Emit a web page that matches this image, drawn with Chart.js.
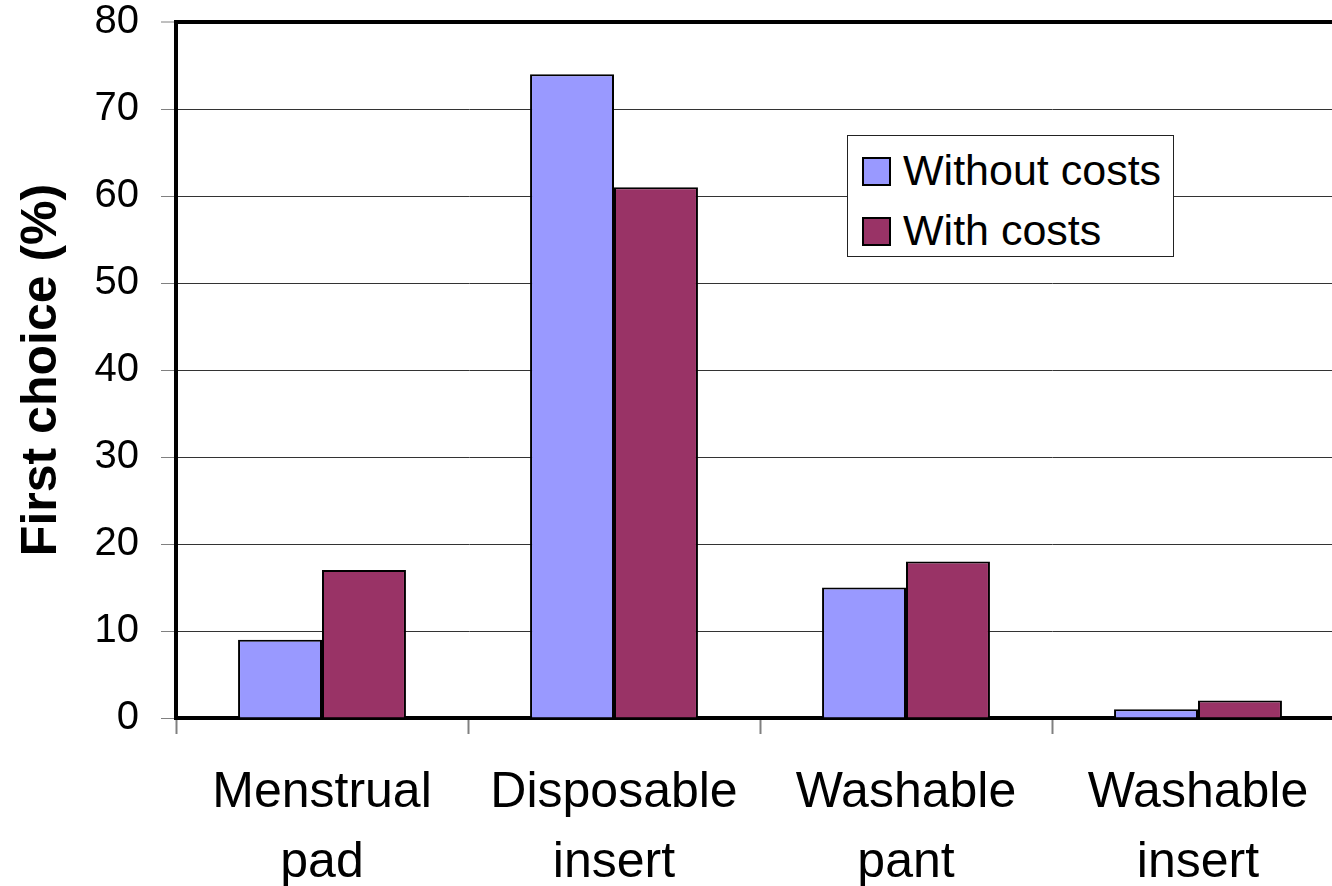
<!DOCTYPE html>
<html>
<head>
<meta charset="utf-8">
<script src="https://cdn.jsdelivr.net/npm/chart.js@4.4.1/dist/chart.umd.min.js"></script>
<style>
    html, body { margin: 0; padding: 0; background: #fff; overflow: hidden; }
    #wrap { position: relative; width: 1348px; height: 886px; }
    #legend {
        position: absolute; left: 847px; top: 135px; width: 325px; height: 120px;
        border: 1px solid #222; background: #fff;
        font-family: "Liberation Sans", Arial, sans-serif; font-size: 43px; color: #000;
    }
    #legend .item { position: absolute; left: 14px; height: 48px; line-height: 48px; }
    #legend .box { display: inline-block; width: 25px; height: 25px; border: 2px solid #000; vertical-align: -1px; margin-right: 12px; }
</style>
</head>
<body>
<div id="wrap">
    <canvas id="chart" width="1348" height="886"></canvas>
    <div id="legend"></div>
</div>
<script>
// Chart data
const categories = [['Menstrual', 'pad'], ['Disposable', 'insert'], ['Washable', 'pant'], ['Washable', 'insert']];
const withoutCosts = [9, 74, 15, 1];
const withCosts = [17, 61, 18, 2];
const seriesNames = ['Without costs', 'With costs'];
const seriesColors = ['#9999FF', '#993366'];
const yMin = 0;
const yMax = 80;
const yStep = 10;

const font = '"Liberation Sans", Arial, sans-serif';

const ctx = document.getElementById('chart').getContext('2d');

const chart = new Chart(ctx, {
    type: 'bar',
    data: {
        labels: categories,
        datasets: [withoutCosts, withCosts].map((values, i) => ({
            label: seriesNames[i],
            data: values,
            backgroundColor: seriesColors[i],
            borderColor: '#000',
            borderWidth: 2,
            categoryPercentage: 0.575,
            barPercentage: 1
        }))
    },
    options: {
        responsive: false,
        animation: false,
        layout: { padding: { top: 22, right: 4, left: 0, bottom: 0 } },
        plugins: {
            legend: { display: false },
            tooltip: { enabled: false }
        },
        scales: {
            x: {
                grid: {
                    offset: true,
                    drawOnChartArea: false,
                    drawTicks: true,
                    tickLength: 16,
                    tickColor: '#808080',
                    tickWidth: 2
                },
                border: { display: true, color: '#000', width: 4 },
                ticks: {
                    color: '#000',
                    padding: 24,
                    maxRotation: 0,
                    autoSkip: false,
                    font: { family: font, size: 50, lineHeight: 1.4 }
                },
                afterFit: scale => {
                    scale.height = 168;
                    scale.paddingLeft = 0;
                    scale.paddingRight = 0;
                }
            },
            y: {
                min: yMin,
                max: yMax,
                grid: {
                    color: ctx => ctx.tick && ctx.tick.value === yMax ? '#000' : '#333',
                    lineWidth: ctx => ctx.tick && ctx.tick.value === yMax ? 4 : 1,
                    tickLength: 15,
                    tickColor: '#808080',
                    tickWidth: 1
                },
                border: { display: true, color: '#000', width: 4 },
                ticks: {
                    stepSize: yStep,
                    color: '#000',
                    padding: 22,
                    font: { family: font, size: 40, lineHeight: 1 }
                },
                title: {
                    display: true,
                    text: 'First choice (%)',
                    color: '#000',
                    padding: { top: 12, bottom: 0 },
                    font: { family: font, size: 50, weight: 'bold' }
                },
                afterFit: scale => {
                    scale.width = 176;
                    scale.paddingTop = 0;
                    scale.paddingBottom = 0;
                }
            }
        }
    }
});

// HTML legend built from the datasets
const legendEl = document.getElementById('legend');
chart.data.datasets.forEach((ds, i) => {
    const item = document.createElement('div');
    item.className = 'item';
    item.style.top = (10 + i * 60) + 'px';
    const box = document.createElement('span');
    box.className = 'box';
    box.style.background = ds.backgroundColor;
    item.appendChild(box);
    item.appendChild(document.createTextNode(ds.label));
    legendEl.appendChild(item);
});
</script>
</body>
</html>
